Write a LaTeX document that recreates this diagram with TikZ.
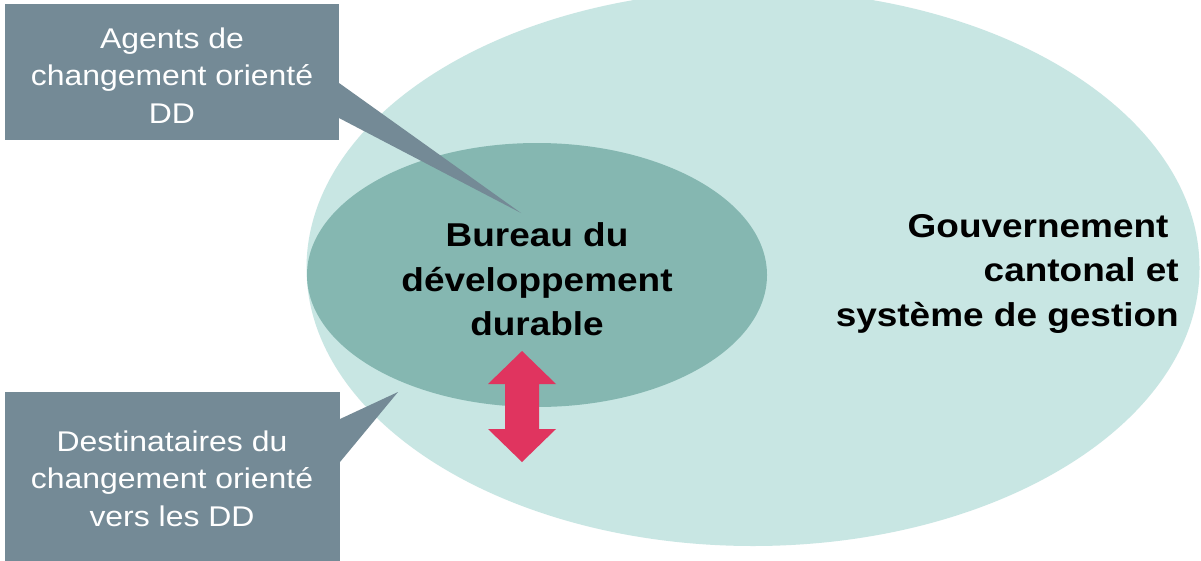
\documentclass[tikz,border=0pt]{standalone}
\usepackage{fontspec}
\setmainfont{Liberation Sans}[FakeStretch=1.12]
\usetikzlibrary{shapes.geometric}
\definecolor{govfill}{HTML}{C8E6E3}
\definecolor{bureaufill}{HTML}{85B7B1}
\definecolor{calloutfill}{HTML}{748A96}
\definecolor{arrowfill}{HTML}{E0345F}
\tikzset{
  blob/.style={ellipse, inner sep=0pt, outer sep=0pt, draw=none},
  calloutbox/.style={fill=calloutfill, draw=none},
  whitetxt/.style={text=white, inner sep=0pt, align=center, font=\fontsize{28.5}{37.5}\selectfont},
  boldtxt/.style={text=black, inner sep=0pt, font=\fontsize{33}{44.5}\selectfont\bfseries},
}
\begin{document}
\begin{tikzpicture}[x=1pt,y=-1pt]
\useasboundingbox (0,0) rectangle (1201,560);
\clip (0,0) rectangle (1201,560);
\fill[white] (0,0) rectangle (1201,560);
% ellipses
\node[blob, fill=govfill, minimum width=893pt, minimum height=556pt] (gov) at (753,268) {};
\node[blob, fill=bureaufill, minimum width=460pt, minimum height=264pt] (bureau) at (537,275) {};
% top callout
\coordinate (agentstip) at (521,213);
\fill[calloutfill] (339,83) -- (agentstip) -- (339,118) -- cycle;
\fill[calloutbox] (5,4) rectangle (339,140);
% bottom callout
\coordinate (destip) at (398,392);
\fill[calloutfill] (340,419) -- (destip) -- (340,462) -- cycle;
\fill[calloutbox] (5,392) rectangle (340,565);
% double arrow
\fill[arrowfill] (522,351) -- (556,384) -- (539,384) -- (539,429) -- (556,429) -- (522,462)
  -- (488,429) -- (505,429) -- (505,384) -- (488,384) -- cycle;
% texts (base anchor = baseline of last line)
\node[whitetxt, anchor=base] (agents) at (172,123) {Agents de\\changement orienté\\DD};
\node[whitetxt, anchor=base] (dest) at (172,526) {Destinataires du\\changement orienté\\vers les DD};
\node[boldtxt, align=center, anchor=base] (bureautxt) at (537,335.5) {Bureau du\\développement\\durable};
\node[boldtxt, align=right, anchor=base east] (govtxt) at (1179,326) {Gouvernement\hspace*{10.3pt}\\cantonal et\hspace*{10.3pt}\\système de gestion};
\end{tikzpicture}
\end{document}
